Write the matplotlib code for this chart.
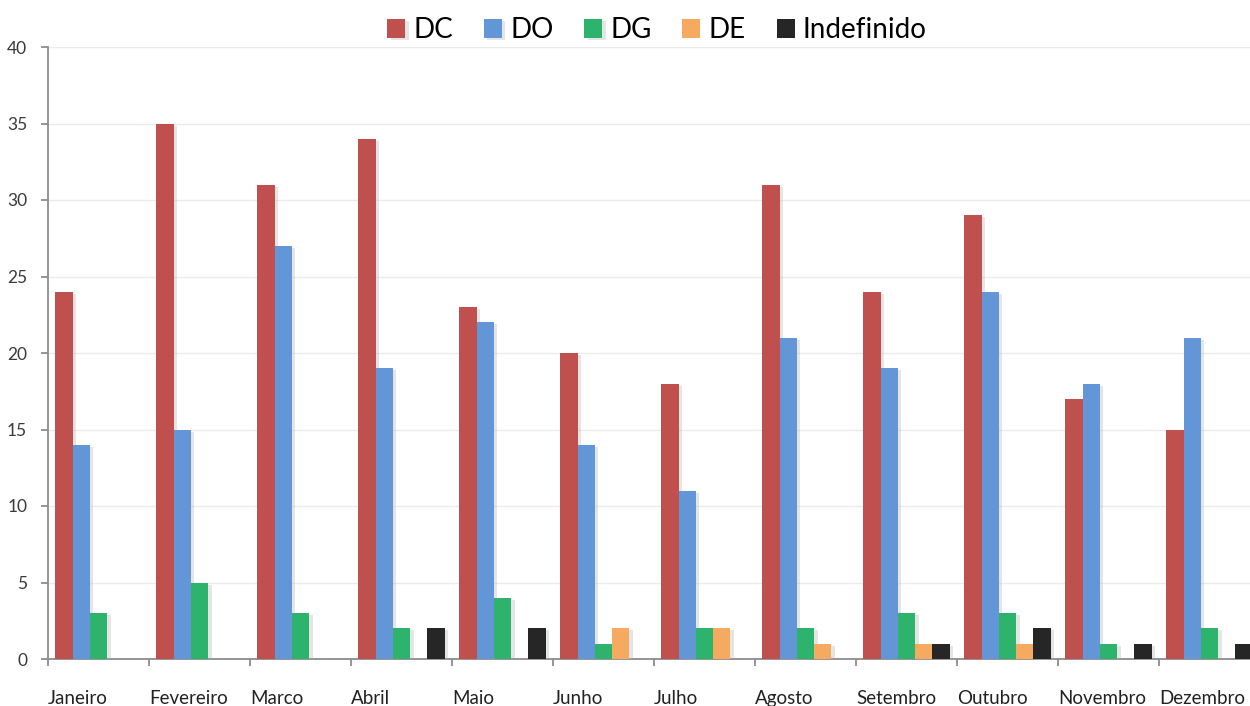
import numpy as np
import matplotlib
matplotlib.use('Agg')
import matplotlib.pyplot as plt
import matplotlib.patheffects as pe

# monthly counts per category
meses = ['Janeiro', 'Fevereiro', 'Marco', 'Abril', 'Maio', 'Junho',
         'Julho', 'Agosto', 'Setembro', 'Outubro', 'Novembro', 'Dezembro']
dc = [24, 35, 31, 34, 23, 20, 18, 31, 24, 29, 17, 15]
do = [14, 15, 27, 19, 22, 14, 11, 21, 19, 24, 18, 21]
dg = [3, 5, 3, 2, 4, 1, 2, 2, 3, 3, 1, 2]
de = [0, 0, 0, 0, 0, 2, 2, 1, 1, 1, 0, 0]
indef = [0, 0, 0, 2, 2, 0, 0, 0, 1, 2, 1, 1]

series = [('DC', dc, '#C0504D'), ('DO', do, '#6396D6'), ('DG', dg, '#2DB36B'),
          ('DE', de, '#F6AA60'), ('Indefinido', indef, '#262626')]

plt.rcParams['font.family'] = ['Lato', 'DejaVu Sans']

fig = plt.figure(figsize=(12.5, 7.06), dpi=100)
ax = fig.add_axes([48 / 1250, 47 / 706, 1212 / 1250, 612 / 706])

x = np.arange(len(meses))
w = 0.171
off = 0.072
shadow = [pe.SimplePatchShadow(offset=(2.5, -1.5), shadow_rgbFace='#AAAAAA', alpha=0.3), pe.Normal()]
handles = []
for j, (name, vals, col) in enumerate(series):
    b = ax.bar(x + off + w * (j + 0.5), vals, width=w, color=col, label=name, zorder=3)
    for p in b:
        if p.get_height() > 0:
            p.set_path_effects(shadow)
    handles.append(b)

ax.set_xlim(0, 12)
ax.set_ylim(0, 40)
ax.set_yticks(range(0, 41, 5))
ax.set_xticks(np.arange(13))
ax.set_xticklabels(meses + [''], ha='left')
ax.grid(axis='y', color='#EBEBEB', linewidth=1, zorder=0)
for s in ['top', 'right']:
    ax.spines[s].set_visible(False)
for s in ['left', 'bottom']:
    ax.spines[s].set_color('#8C8C8C')
    ax.spines[s].set_linewidth(1.3)
ax.tick_params(axis='y', length=5, width=1.3, color='#8C8C8C', pad=10,
               labelsize=12.5, labelcolor='#3A3A3A')
ax.tick_params(axis='x', length=5, width=1.3, color='#8C8C8C', pad=17,
               labelsize=13.5, labelcolor='#222222')

fig.legend(handles=handles, loc='center', bbox_to_anchor=(657 / 1250, 1 - 30 / 706),
           ncol=5, frameon=False, fontsize=20, handlelength=0.65, handleheight=0.65,
           handletextpad=0.3, columnspacing=1.1)

fig.savefig('out.png', dpi=100)
